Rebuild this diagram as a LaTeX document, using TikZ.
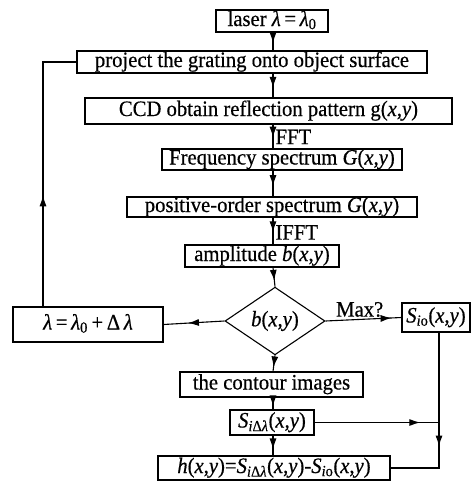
\documentclass[tikz,border=0pt]{standalone}
\usepackage{fontspec}
\setmainfont{Liberation Serif}[FakeStretch=0.94, FakeBold=0.5]
\usetikzlibrary{shapes.geometric, arrows.meta, decorations.markings}
\newcommand{\xyarg}{(\textit{x},\textit{y})}

\begin{document}
\begin{tikzpicture}[x=1pt, y=-1pt, line width=1.1pt, font=\fontsize{22}{25}\selectfont,
  box/.style={draw, inner sep=0pt, text height=15pt, text depth=5pt, minimum height=#1}, box/.default=22,
  lbl/.style={anchor=base west, inner sep=0pt, xshift=2pt},
  mid/.style={postaction={decorate, decoration={markings,
      mark=at position #1 with {\arrow{Latex[length=11pt, width=7pt]}}}}},
  mid/.default=0.6]
\useasboundingbox (0,0) rectangle (473,482);
\coordinate (spine) at (273,0);
\coordinate (back) at (43,0);
\coordinate (rline) at (439,0);

\node[box, minimum width=112] (laser) at (272,21) {laser \textit{λ}\,=\,\textit{λ}\textsubscript{0}};
\node[box, minimum width=350] (proj) at (252,62) {project the grating onto object surface};
\node[box=26, minimum width=367] (ccd) at (268.5,111) {CCD obtain reflection pattern g\xyarg};
\node[box=21, minimum width=240] (freq) at (282,159.5) {Frequency spectrum \textit{G}\xyarg};
\node[box=20, minimum width=290] (pos) at (272,207) {positive-order spectrum \textit{G}\xyarg};
\node[box, minimum width=154] (amp) at (262,256) {amplitude \textit{b}\xyarg};
\node[draw, diamond, inner sep=0pt, minimum width=100, minimum height=56] (diam) at (275,321) {\textit{b}\xyarg};
\node[box=35, minimum width=150] (lam) at (88,324.5) {\textit{λ}\,=\,\textit{λ}\textsubscript{0}\,+\,Δ\,\textit{λ}};
\node[box=29, minimum width=68] (sio) at (436,317.5) {\textit{S}\textsubscript{\textit{i}o}\xyarg};
\node[box=25, minimum width=183] (cont) at (271.5,384.5) {the contour images};
\node[box=25, minimum width=84] (sdl) at (272,422.5) {\textit{S}\textsubscript{\textit{i}Δ\textit{λ}}\xyarg};
\node[box=24, minimum width=232] (hbox) at (274,468) {\textit{h}\xyarg=\textit{S}\textsubscript{\textit{i}Δ\textit{λ}}\xyarg-\textit{S}\textsubscript{\textit{i}o}\xyarg};

\draw[mid] (laser.south -| spine) -- (proj.north -| spine);
\draw[mid] (proj.south -| spine) -- (ccd.north -| spine);
\draw[mid=0.55] (ccd.south -| spine) -- (freq.north -| spine) node[lbl, pos=0.82]{FFT};
\draw[mid] (freq.south -| spine) -- (pos.north -| spine);
\draw[mid=0.55] (pos.south -| spine) -- (amp.north -| spine) node[lbl, pos=0.82]{IFFT};
\draw[mid=0.7] (amp.south -| spine) -- (diam.north);
\draw[mid=0.75] (diam.south) -- (cont.north -| spine);
\draw[mid=0.75] (cont.south -| spine) -- (sdl.north -| spine);
\draw[mid=0.7] (sdl.south -| spine) -- (hbox.north -| spine);
\draw[mid=0.6] (diam.west) -- (lam.east);
\draw[mid=0.4] (lam.north -| back) |- (proj.west);
\draw[mid=0.87] (diam.east) -- (sio.west) node[above, pos=0.45, inner sep=2pt]{Max?};
\draw[mid=0.85] (sdl.east) -- (sdl.east -| rline);
\draw[mid=0.62] (sio.south -| rline) |- (hbox.east);
\end{tikzpicture}
\end{document}
